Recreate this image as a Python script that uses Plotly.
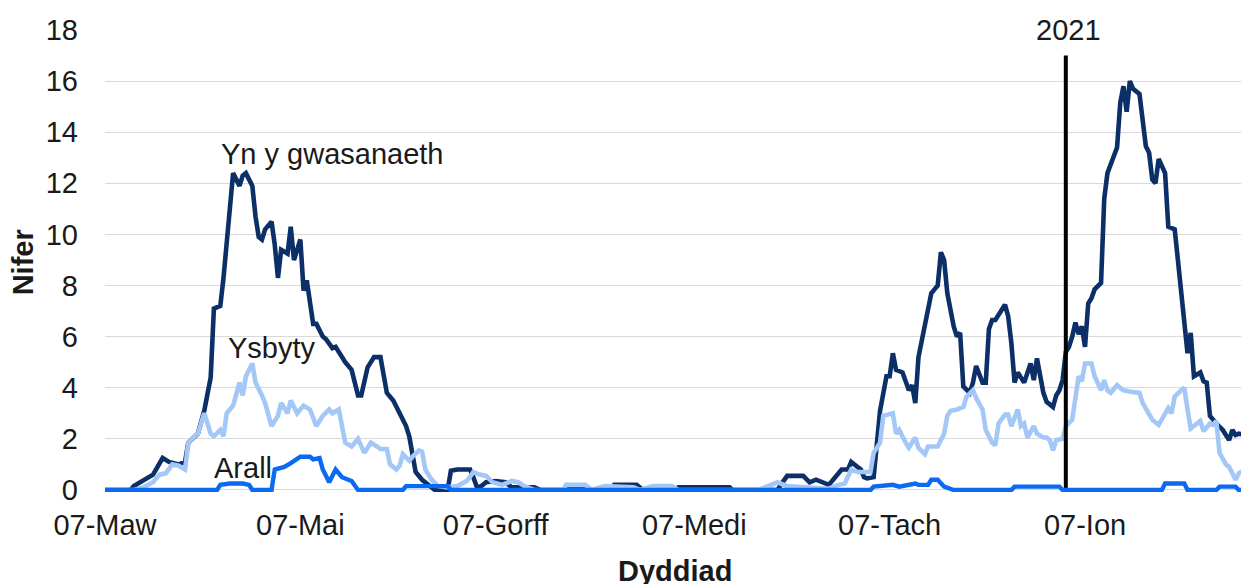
import pandas as pd
import plotly.graph_objects as go

# ---------------- data ----------------
start_date = "2020-03-07"

tick_dates = ["2020-03-07", "2020-05-07", "2020-07-07", "2020-09-07", "2020-11-07", "2021-01-07"]
tick_labels = ["07-Maw", "07-Mai", "07-Gorff", "07-Medi", "07-Tach", "07-Ion"]

# "Yn y gwasanaeth" (day offset from start_date, count)
gwas_day = [0, 8, 9, 12, 15, 18, 20, 23, 25, 26, 29, 31, 33, 34, 36, 37, 39, 40, 42, 43, 44, 46, 47, 48, 49, 50,
            52, 53, 54, 55, 57, 58, 59, 61, 62, 63, 65, 66, 68, 69, 71, 72, 74, 75, 77, 79, 80, 82, 84, 86, 88,
            90, 92, 94, 95, 96, 97, 99, 101, 103, 107, 108, 110, 114, 115, 116, 117, 119, 122, 125, 127, 134,
            136, 143, 144, 148, 150, 158, 159, 166, 168, 178, 179, 195, 196, 210, 211, 213, 218, 220, 222, 224,
            226, 228, 230, 232, 233, 235, 236, 237, 238, 240, 241, 242, 244, 245, 246, 247, 249, 250, 251, 252,
            253, 254, 256, 258, 259, 260, 261, 262, 263, 265, 266, 267, 268, 270, 271, 272, 274, 275, 276, 277,
            278, 280, 281, 282, 283, 284, 285, 287, 288, 289, 290, 291, 293, 294, 296, 297, 298, 299, 300, 301,
            302, 303, 304, 305, 306, 307, 308, 309, 311, 312, 313, 314, 316, 317, 318, 319, 320, 321, 323, 325,
            326, 327, 328, 329, 331, 332, 334, 335, 336, 337, 338, 339, 340, 342, 343, 344, 345, 347, 349, 351,
            352, 353, 354, 356, 357]
gwas_val = [0, 0, 0.15, 0.35, 0.6, 1.25, 1.1, 1.0, 1.1, 1.85, 2.2, 3.1, 4.4, 7.1, 7.2, 8.3, 10.9, 12.4, 11.9, 12.3,
            12.4, 11.9, 10.7, 9.9, 9.8, 10.2, 10.5, 9.6, 8.3, 9.4, 9.25, 10.3, 9.0, 9.8, 7.8, 8.2, 6.5, 6.5, 6.0,
            5.9, 5.55, 5.6, 5.2, 5.0, 4.7, 3.7, 3.7, 4.8, 5.2, 5.2, 3.8, 3.5, 3.0, 2.5, 2.1, 1.5, 0.7, 0.4, 0.2,
            0, 0, 0.75, 0.8, 0.8, 0.5, 0.15, 0.1, 0.3, 0.35, 0.3, 0.1, 0.1, 0, 0, 0.1, 0.1, 0, 0, 0.2, 0.2, 0, 0,
            0.1, 0.1, 0, 0, 0.2, 0.55, 0.55, 0.3, 0.4, 0.3, 0.2, 0.5, 0.8, 0.8, 1.1, 0.9, 0.8, 0.5, 0.45, 0.5,
            1.8, 3.1, 4.45, 4.45, 5.35, 4.7, 4.6, 4.2, 3.9, 4.1, 3.4, 5.2, 6.4, 7.7, 7.85, 8.0, 9.3, 9.0, 7.7,
            6.4, 6.0, 6.15, 4.05, 3.8, 4.2, 4.85, 4.2, 4.2, 6.3, 6.65, 6.65, 7.05, 7.25, 6.8, 5.75, 4.2, 4.6,
            4.2, 4.6, 4.95, 4.3, 5.15, 3.8, 3.45, 3.25, 3.7, 3.9, 4.3, 5.4, 5.6, 6.0, 6.55, 6.1, 6.4, 5.6, 7.3,
            7.5, 7.85, 8.1, 11.4, 12.4, 12.7, 13.4, 15.15, 15.8, 14.8, 16.0, 15.7, 15.5, 13.45, 13.2, 12.15,
            12.0, 12.95, 12.4, 10.3, 10.2, 9.0, 7.7, 6.4, 5.35, 6.15, 4.45, 4.6, 4.25, 4.2, 2.9, 2.6, 2.35,
            1.95, 2.35, 2.15, 2.2, 2.15, 2.3]

# "Ysbyty"
ysb_day = [0, 9, 12, 15, 17, 19, 21, 23, 25, 26, 28, 29, 31, 33, 34, 36, 37, 38, 40, 42, 43, 44, 46, 47, 49, 50,
           52, 54, 55, 57, 58, 60, 62, 64, 66, 68, 70, 71, 73, 75, 77, 79, 81, 83, 85, 86, 88, 89, 91, 92, 93,
           95, 96, 98, 99, 100, 102, 104, 107, 110, 113, 115, 117, 119, 121, 124, 127, 129, 131, 134, 143, 144,
           150, 152, 156, 165, 167, 171, 177, 179, 204, 207, 210, 213, 221, 226, 229, 231, 233, 235, 237, 239,
           240, 242, 243, 245, 246, 247, 248, 250, 251, 253, 254, 256, 257, 260, 262, 263, 264, 266, 268, 269,
           271, 272, 274, 275, 277, 278, 279, 281, 282, 283, 285, 286, 287, 288, 290, 291, 293, 294, 295, 296,
           297, 299, 300, 302, 303, 304, 305, 306, 308, 309, 311, 312, 313, 314, 316, 318, 320, 323, 324, 326,
           327, 329, 330, 332, 333, 334, 336, 337, 338, 339, 341, 342, 343, 345, 346, 347, 348, 350, 351, 353,
           354, 356, 357]
ysb_val = [0, 0, 0.1, 0.3, 0.6, 0.65, 1.0, 0.95, 0.8, 1.85, 2.1, 2.2, 3.0, 2.2, 2.1, 2.35, 2.1, 3.0, 3.3, 4.2,
           3.7, 4.45, 4.95, 4.2, 3.7, 3.4, 2.5, 2.9, 3.4, 3.0, 3.5, 3.0, 3.3, 3.15, 2.5, 2.9, 3.15, 3.0, 3.15,
           1.85, 1.7, 2.0, 1.45, 1.85, 1.7, 1.6, 1.6, 1.0, 0.8, 0.95, 1.4, 1.15, 1.3, 1.55, 1.5, 0.8, 0.4, 0.15,
           0.1, 0.15, 0.35, 0.7, 0.6, 0.55, 0.3, 0.2, 0.35, 0.3, 0.15, 0, 0, 0.2, 0.2, 0, 0.15, 0.1, 0, 0.15,
           0.15, 0, 0, 0.15, 0.3, 0.15, 0.1, 0.05, 0.2, 0.25, 0.8, 0.7, 0.7, 0.7, 1.45, 1.85, 2.9, 2.95, 3.0,
           2.2, 2.35, 1.85, 1.65, 2.05, 1.65, 1.4, 1.7, 1.7, 2.2, 2.9, 3.1, 3.15, 3.25, 3.65, 3.9, 3.6, 3.15,
           2.35, 1.85, 1.75, 2.6, 2.95, 2.95, 2.5, 3.15, 2.5, 2.6, 2.05, 2.5, 2.2, 2.05, 2.05, 1.95, 1.55, 1.95,
           2.0, 2.5, 2.75, 3.5, 4.45, 4.25, 4.95, 4.95, 4.45, 3.9, 4.3, 3.9, 3.8, 4.1, 3.9, 3.85, 3.8, 3.4, 3.0,
           2.75, 2.55, 2.75, 3.2, 3.0, 3.65, 3.9, 4.0, 3.15, 2.4, 2.6, 2.7, 2.3, 2.6, 2.55, 2.7, 1.45, 1.0, 0.9,
           0.4, 0.65, 0.8, 0.85]

# "Arall"
arall_day = [0, 35, 36, 39, 43, 45, 46, 52, 53, 56, 58, 60, 61, 64, 65, 67, 68, 70, 72, 74, 77, 79, 93, 94, 107,
             108, 239, 240, 246, 248, 253, 254, 257, 258, 260, 262, 265, 283, 284, 298, 299, 330, 331, 337, 338,
             347, 348, 353, 354, 357]
arall_val = [0, 0, 0.2, 0.25, 0.25, 0.2, 0, 0, 0.8, 0.9, 1.05, 1.25, 1.3, 1.3, 1.2, 1.25, 0.8, 0.3, 0.8, 0.5,
             0.35, 0, 0, 0.15, 0.15, 0, 0, 0.13, 0.2, 0.13, 0.25, 0.2, 0.2, 0.4, 0.4, 0.13, 0, 0, 0.13, 0.13, 0,
             0, 0.25, 0.25, 0, 0, 0.13, 0.13, 0, 0]

year_marker_date = "2021-01-01"
year_marker_top = 17
year_marker_text = "2021"

# ---------------- figure ----------------
t0 = pd.Timestamp(start_date)


def to_dates(days):
    return [t0 + pd.Timedelta(days=d) for d in days]


DARK = "#0b2f66"
LIGHT = "#a3c7f6"
MID = "#0a6af2"
FONT = "Liberation Sans, Arial, sans-serif"
TXT = "#1a1a1a"
FS = 29

fig = go.Figure()
fig.add_trace(go.Scatter(x=to_dates(gwas_day), y=gwas_val, mode="lines", name="Yn y gwasanaeth",
                         line=dict(color=DARK, width=4.6)))
fig.add_trace(go.Scatter(x=to_dates(ysb_day), y=ysb_val, mode="lines", name="Ysbyty",
                         line=dict(color=LIGHT, width=4.6)))
fig.add_trace(go.Scatter(x=[pd.Timestamp(year_marker_date)] * 2, y=[0, year_marker_top], mode="lines",
                         name=year_marker_text, line=dict(color="#000000", width=4)))
fig.add_trace(go.Scatter(x=to_dates(arall_day), y=arall_val, mode="lines", name="Arall",
                         line=dict(color=MID, width=4.4)))

x_end = t0 + pd.Timedelta(days=357.2)

fig.update_layout(
    width=1241, height=576,
    margin=dict(l=97, r=0, t=22, b=92),
    paper_bgcolor="white", plot_bgcolor="white",
    showlegend=False,
    font=dict(family=FONT, size=FS, color=TXT),
    xaxis=dict(type="date", range=[t0, x_end], tickvals=tick_dates, ticktext=tick_labels,
               showgrid=False, zeroline=False, showline=False, ticks="",
               tickfont=dict(size=FS, color=TXT), ticklabelstandoff=13),
    yaxis=dict(range=[-0.08, 18], tickvals=list(range(0, 19, 2)), showgrid=True, gridcolor="#d9d9d9",
               gridwidth=1, zeroline=False, showline=False, ticks="",
               tickfont=dict(size=FS, color=TXT), ticklabelstandoff=26),
    annotations=[
        dict(text="Yn y gwasanaeth", x=t0 + pd.Timedelta(days=70.9), y=13.15, xref="x", yref="y",
             showarrow=False, font=dict(size=FS, color=TXT)),
        dict(text="Ysbyty", x=t0 + pd.Timedelta(days=52.1), y=5.56, xref="x", yref="y",
             showarrow=False, font=dict(size=FS, color=TXT)),
        dict(text="Arall", x=t0 + pd.Timedelta(days=43.1), y=0.86, xref="x", yref="y",
             showarrow=False, font=dict(size=FS, color=TXT)),
        dict(text=year_marker_text, x=pd.Timestamp(year_marker_date) + pd.Timedelta(days=0.8), y=18,
             xref="x", yref="y", showarrow=False, font=dict(size=FS, color=TXT)),
        dict(text="<b>Nifer</b>", x=-0.0721, y=0.496, xref="paper", yref="paper", textangle=-90,
             xanchor="center", yanchor="middle", showarrow=False, font=dict(size=FS, color=TXT)),
        dict(text="<b>Dyddiad</b>", x=0.498, y=-0.170, xref="paper", yref="paper",
             xanchor="center", yanchor="middle", showarrow=False, font=dict(size=FS, color=TXT)),
    ],
)

fig.write_html("out.html")
